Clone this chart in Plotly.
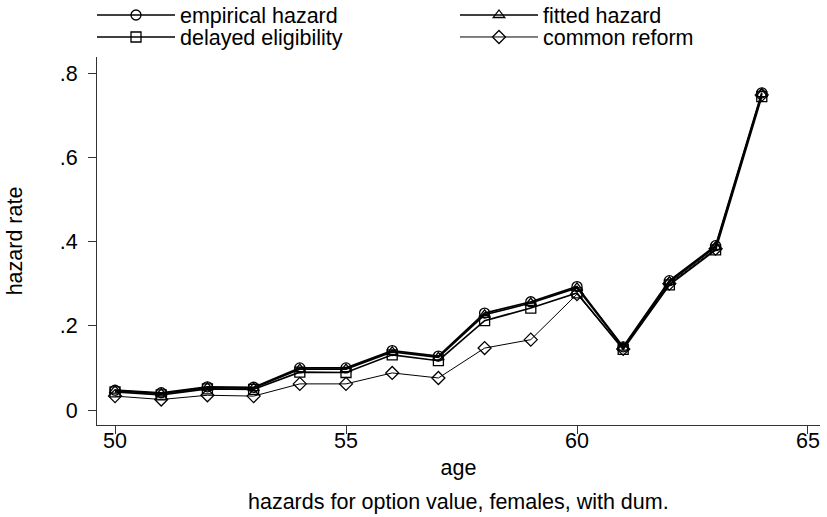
import plotly.graph_objects as go

# Ages and hazard series
age = list(range(50, 65))
empirical = [0.047, 0.041, 0.055, 0.054, 0.100, 0.100, 0.141, 0.128, 0.230, 0.257, 0.293, 0.150, 0.307, 0.390, 0.753]
fitted = [0.046, 0.039, 0.053, 0.052, 0.097, 0.097, 0.138, 0.125, 0.226, 0.254, 0.290, 0.148, 0.304, 0.387, 0.750]
delayed = [0.043, 0.036, 0.050, 0.049, 0.090, 0.089, 0.131, 0.117, 0.212, 0.242, 0.278, 0.144, 0.297, 0.380, 0.744]
common = [0.033, 0.025, 0.035, 0.033, 0.062, 0.062, 0.088, 0.076, 0.147, 0.167, 0.275, 0.145, 0.300, 0.383, 0.748]

x_ticks = [50, 55, 60, 65]
y_ticks = [0, 0.2, 0.4, 0.6, 0.8]
y_tick_labels = ["0", ".2", ".4", ".6", ".8"]

FONT = "Liberation Sans, Arial, sans-serif"
FS = 21.5
W, H = 827, 517
L, R, T, B = 97, 7, 57, 92
PW, PH = W - L - R, H - T - B

fig = go.Figure()

# each series gets its own legend box so the 2x2 key can be placed freely
series = [
    ("empirical hazard", empirical, "circle-open", 1.7, "legend"),
    ("fitted hazard", fitted, "triangle-up-open", 1.7, "legend2"),
    ("delayed eligibility", delayed, "square-open", 1.7, "legend3"),
    ("common reform", common, "diamond-open", 1.0, "legend4"),
]
for name, vals, sym, lw, lg in series:
    fig.add_trace(go.Scatter(
        x=age, y=vals, name=name, mode="lines+markers",
        line=dict(color="black", width=lw),
        marker=dict(symbol=sym, size=10, color="black", line=dict(width=1.3, color="black")),
        legend=lg, showlegend=True,
    ))

legend_style = dict(
    orientation="v", xref="paper", yref="paper",
    yanchor="middle", xanchor="left", bgcolor="rgba(0,0,0,0)",
    font=dict(family=FONT, size=FS, color="black"),
    itemwidth=78, tracegroupgap=0, borderwidth=0,
)
row1 = (H - B - 15) / PH
row2 = (H - B - 37) / PH
col1 = (92 - L) / PW
col2 = (455 - L) / PW

fig.update_layout(
    width=W, height=H, showlegend=True,
    paper_bgcolor="white", plot_bgcolor="white",
    margin=dict(l=L, r=R, t=T, b=B, autoexpand=False),
    font=dict(family=FONT, size=FS, color="black"),
    legend=dict(x=col1, y=row1, **legend_style),
    legend2=dict(x=col2, y=row1, **legend_style),
    legend3=dict(x=col1, y=row2, **legend_style),
    legend4=dict(x=col2, y=row2, **legend_style),
    xaxis=dict(
        range=[49.61, 65.26], tickvals=x_ticks,
        showline=True, linecolor="#333", linewidth=1.2,
        ticks="outside", ticklen=8, tickcolor="#333", tickwidth=1.2,
        showgrid=False, zeroline=False, ticklabelstandoff=-12,
        tickfont=dict(family=FONT, size=FS, color="black"),
        title=dict(text="age", standoff=8, font=dict(family=FONT, size=FS, color="black")),
    ),
    yaxis=dict(
        range=[-0.0356, 0.838], tickvals=y_ticks,
        ticktext=[t + "\u00a0" for t in y_tick_labels],
        showline=True, linecolor="#333", linewidth=1.2,
        ticks="outside", ticklen=8, tickcolor="#333", tickwidth=1.2,
        showgrid=False, zeroline=False,
        tickfont=dict(family=FONT, size=FS, color="black"),
        title=dict(text="hazard rate", standoff=31, font=dict(family=FONT, size=FS, color="black")),
    ),
    annotations=[dict(
        text="hazards for option value, females, with dum.",
        xref="paper", yref="paper", x=0.5, y=(H - B - 502) / PH,
        xanchor="center", yanchor="middle", showarrow=False,
        font=dict(family=FONT, size=FS, color="black"),
    )],
)

fig.write_html("out.html")
